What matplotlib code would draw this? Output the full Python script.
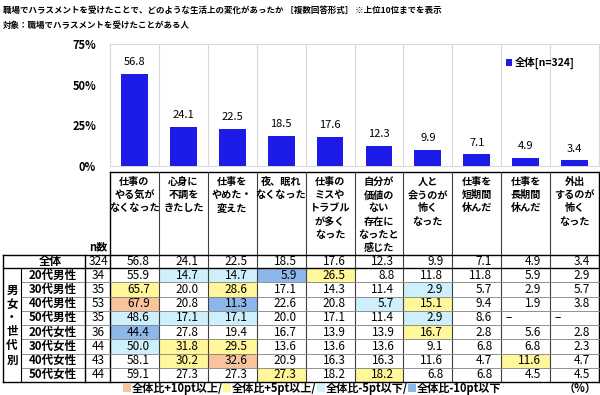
import numpy as np
import matplotlib
matplotlib.use('Agg')
import matplotlib.pyplot as plt
from matplotlib.patches import Rectangle

plt.rcParams['font.family'] = ['Noto Sans CJK JP', 'DejaVu Sans']

# ---- data ----
items = ['仕事の\nやる気が\nなくなった', '心身に\n不調を\nきたした', '仕事を\nやめた・\n変えた',
         '夜、眠れ\nなくなった', '仕事の\nミスや\nトラブル\nが多く\nなった',
         '自分が\n価値の\nない\n存在に\nなったと\n感じた', '人と\n会うのが\n怖く\nなった',
         '仕事を\n短期間\n休んだ', '仕事を\n長期間\n休んだ', '外出\nするのが\n怖く\nなった']
overall = [56.8, 24.1, 22.5, 18.5, 17.6, 12.3, 9.9, 7.1, 4.9, 3.4]
n_all = 324
groups = ['20代男性', '30代男性', '40代男性', '50代男性',
          '20代女性', '30代女性', '40代女性', '50代女性']
n_group = [34, 35, 53, 35, 36, 44, 43, 44]
vals = [
    [55.9, 14.7, 14.7, 5.9, 26.5, 8.8, 11.8, 11.8, 5.9, 2.9],
    [65.7, 20.0, 28.6, 17.1, 14.3, 11.4, 2.9, 5.7, 2.9, 5.7],
    [67.9, 20.8, 11.3, 22.6, 20.8, 5.7, 15.1, 9.4, 1.9, 3.8],
    [48.6, 17.1, 17.1, 20.0, 17.1, 11.4, 2.9, 8.6, None, None],
    [44.4, 27.8, 19.4, 16.7, 13.9, 13.9, 16.7, 2.8, 5.6, 2.8],
    [50.0, 31.8, 29.5, 13.6, 13.6, 13.6, 9.1, 6.8, 6.8, 2.3],
    [58.1, 30.2, 32.6, 20.9, 16.3, 16.3, 11.6, 4.7, 11.6, 4.7],
    [59.1, 27.3, 27.3, 27.3, 18.2, 18.2, 6.8, 6.8, 4.5, 4.5],
]
legend_labels = ['全体比+10pt以上/', '全体比+5pt以上/', '全体比-5pt以下/', '全体比-10pt以下']
c_orange, c_yellow, c_cyan, c_blue = '#f9c39b', '#fff799', '#cdf0fb', '#8db7ea'
bar_color = '#1c1ce6'

def cell_color(v, base):
    if v is None:
        return None
    d = round(v - base, 1)
    if d >= 10:
        return c_orange
    if d >= 5:
        return c_yellow
    if d <= -10:
        return c_blue
    if d <= -5:
        return c_cyan
    return None

W, H = 600, 395
fig = plt.figure(figsize=(6, 3.95), dpi=100)

# ---- bar chart ----
L, R = 110, 599
ptop, base = 44, 166
ax = fig.add_axes([L / W, 1 - base / H, (R - L) / W, (base - ptop) / H])
x = np.arange(len(overall)) + 0.5
bars = ax.bar(x, overall, width=0.55, color=bar_color, label='全体[n=324]', zorder=3)
ax.set_xlim(0, len(overall))
ax.set_ylim(0, 75)
ax.set_xticks(np.arange(len(overall) + 1))
ax.set_xticklabels([])
ax.set_yticks([0, 25, 50, 75])
ax.set_yticklabels(['0%', '25%', '50%', '75%'], fontsize=8, fontweight='bold')
ax.tick_params(length=0)
ax.tick_params(axis='y', pad=10)
ax.grid(axis='x', color='#d9d9d9', lw=0.8)
for s in ax.spines.values():
    s.set_color('#d9d9d9')
ax.bar_label(bars, fmt='%.1f', padding=5, fontsize=8)
ax.legend(loc='upper right', bbox_to_anchor=(0.97, 0.97), frameon=False,
          handlelength=0.6, handleheight=0.6, handletextpad=0.3,
          prop={'weight': 'bold', 'size': 7.5})

# ---- table (pixel coordinates) ----
tb = fig.add_axes([0, 0, 1, 1])
tb.set_xlim(0, W)
tb.set_ylim(H, 0)
tb.axis('off')
tb.patch.set_visible(False)

cx = np.linspace(L, R, len(overall) + 1)
htop = 172
r0 = 255
r1 = 268
rh = 14.25
ry = [r0, r1] + [r1 + rh * (k + 1) for k in range(len(groups))]
bot = ry[-1]

# cell fills
for i, row in enumerate(vals):
    for j, v in enumerate(row):
        c = cell_color(v, overall[j])
        if c:
            tb.add_patch(Rectangle((cx[j], ry[i + 1]), cx[j + 1] - cx[j], rh, color=c, lw=0))

dark = '#404040'
# header
tb.plot([L, R], [htop, htop], color='black', lw=1)
for k in range(1, len(cx) - 1):
    tb.plot([cx[k], cx[k]], [htop, bot], color=dark, lw=0.8)
tb.plot([L, L], [htop, bot], color='black', lw=1)
tb.plot([R, R], [htop, bot], color='black', lw=1)
for j, lab in enumerate(items):
    for k, line in enumerate(lab.split('\n')):
        tb.text((cx[j] + cx[j + 1]) / 2, 182 + 13.2 * k, line, ha='center', va='center',
                fontsize=7.3, fontweight='bold')

# rows
tb.plot([3, R], [r0, r0], color='black', lw=1)
tb.plot([3, R], [r1, r1], color='black', lw=1)
for y in ry[2:-1]:
    tb.plot([21, R], [y, y], color='#808080', lw=0.6)
tb.plot([3, R], [bot, bot], color='black', lw=1)
tb.plot([3, 3], [r0, bot], color='black', lw=1)
tb.plot([21, 21], [r1, bot], color='black', lw=0.8)
tb.plot([85, 85], [r0, bot], color='black', lw=1)

tb.text(98, 247, 'n数', ha='center', va='center', fontsize=8, fontweight='bold')
tb.text(50, (r0 + r1) / 2, '全体', ha='center', va='center', fontsize=8.3, fontweight='bold')
tb.text(98, (r0 + r1) / 2, str(n_all), ha='center', va='center', fontsize=8.5)
for j, v in enumerate(overall):
    tb.text(cx[j + 1] - 9, (r0 + r1) / 2, f'{v:.1f}', ha='right', va='center', fontsize=8.5)

for i, g in enumerate(groups):
    yc = ry[i + 1] + rh / 2
    tb.text(53, yc, g, ha='center', va='center', fontsize=8.3, fontweight='bold')
    tb.text(98, yc, str(n_group[i]), ha='center', va='center', fontsize=8.5)
    for j, v in enumerate(vals[i]):
        if v is None:
            tb.text(cx[j] + 4, yc, '–', ha='left', va='center', fontsize=8.5)
        else:
            tb.text(cx[j + 1] - 9, yc, f'{v:.1f}', ha='right', va='center', fontsize=8.5)

for k, ch in enumerate('男女・世代別'):
    tb.text(12, 290 + 14 * k, ch, ha='center', va='center', fontsize=8.3, fontweight='bold')

# bottom legend, laid out left to right
fig.canvas.draw()
rend = fig.canvas.get_renderer()
xs = 123
for c, lab in zip([c_orange, c_yellow, c_cyan, c_blue], legend_labels):
    tb.add_patch(Rectangle((xs, 384), 8, 8, color=c, lw=0))
    t = tb.text(xs + 9, 388.5, lab, ha='left', va='center', fontsize=8, fontweight='bold')
    xs = xs + 9 + t.get_window_extent(rend).width * W / fig.bbox.width
tb.text(597, 388.5, '（%）', ha='right', va='center', fontsize=8, fontweight='bold')

# titles
tb.text(3, 10, '職場でハラスメントを受けたことで、どのような生活上の変化があったか ［複数回答形式］ ※上位10位までを表示',
        ha='left', va='center', fontsize=6.1, fontweight='bold')
tb.text(3, 25, '対象：職場でハラスメントを受けたことがある人', ha='left', va='center',
        fontsize=6.1, fontweight='bold')

fig.savefig('out.png', dpi=100)
